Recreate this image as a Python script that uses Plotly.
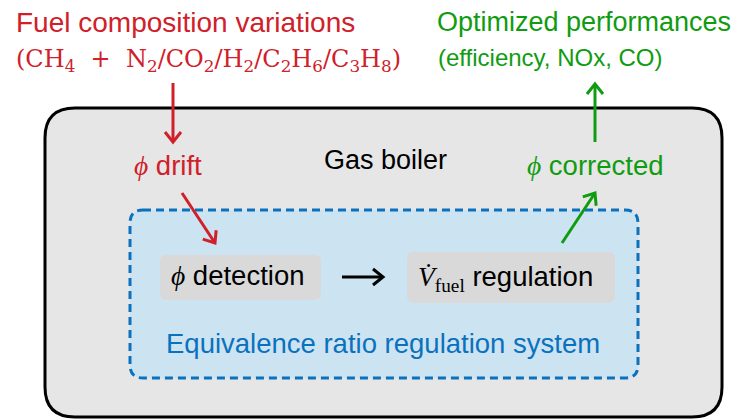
import plotly.graph_objects as go

# text content
title_left = "Fuel composition variations"
title_right = "Optimized performances"
fuel_mix = ["CH<sub>4</sub>", "N<sub>2</sub>", "CO<sub>2</sub>", "H<sub>2</sub>",
            "C<sub>2</sub>H<sub>6</sub>", "C<sub>3</sub>H<sub>8</sub>"]
targets = ["efficiency", "NOx", "CO"]
system_name = "Equivalence ratio regulation system"

RED = "#d0202a"
GREEN = "#109c10"
BLUE = "#0a72bd"
SERIF = "DejaVu Serif"
SANS = "Liberation Sans"
PHI = '<span style="font-family:Liberation Serif"><i>ϕ</i></span>'


def rounded(x0, y0, x1, y1, r):
    return (f"M {x0+r},{y0} L {x1-r},{y0} Q {x1},{y0} {x1},{y0+r} "
            f"L {x1},{y1-r} Q {x1},{y1} {x1-r},{y1} L {x0+r},{y1} "
            f"Q {x0},{y1} {x0},{y1-r} L {x0},{y0+r} Q {x0},{y0} {x0+r},{y0} Z")


def arrow(x0, y0, x1, y1, color):
    # line with an open chevron head, like tikz "->"
    dx, dy = x1 - x0, y1 - y0
    n = (dx * dx + dy * dy) ** 0.5
    ux, uy = dx / n, dy / n
    L, Wd = 10, 8
    bx, by = x1 - ux * L, y1 - uy * L
    px, py = -uy * Wd, ux * Wd
    head = f"M {bx+px},{by+py} L {x1},{y1} L {bx-px},{by-py}"
    return [
        dict(type="line", x0=x0, y0=y0, x1=x1 - ux * 1.5, y1=y1 - uy * 1.5,
             line=dict(color=color, width=3)),
        dict(type="path", path=head, line=dict(color=color, width=3)),
    ]


fig = go.Figure()

shapes = []
# gas boiler
shapes.append(dict(type="path", path=rounded(45, 108, 722, 417, 30),
                   fillcolor="#e6e6e6", line=dict(color="black", width=3), layer="below"))
# regulation system
shapes.append(dict(type="path", path=rounded(130, 210, 638, 378, 13),
                   fillcolor="#cce3f2", line=dict(color=BLUE, width=3, dash="8px,5px"),
                   layer="below"))
# nodes
shapes.append(dict(type="path", path=rounded(160, 255, 321, 300, 7),
                   fillcolor="#d9d9d9", line=dict(width=0), layer="below"))
shapes.append(dict(type="path", path=rounded(407, 252, 615, 303, 7),
                   fillcolor="#d9d9d9", line=dict(width=0), layer="below"))

shapes += arrow(173, 83, 173, 142, RED)
shapes += arrow(182, 193, 215, 243, RED)
shapes += arrow(342, 277, 383, 277, "black")
shapes += arrow(562, 243, 595, 193, GREEN)
shapes += arrow(595, 142, 595, 84, GREEN)

plus = "\u00a0\u00a0+\u00a0\u00a0"
texts = [
    (title_left, 14, 22, RED, 28, SANS),
    ("(" + plus.join([fuel_mix[0], "/".join(fuel_mix[1:])]) + ")", 14, 60, RED, 24, SERIF),
    (title_right, 435, 22, GREEN, 27, SANS),
    ("(" + ", ".join(targets) + ")", 436, 57, GREEN, 24, SANS),
    (PHI + " drift", 132, 165, RED, 27.5, SANS),
    ("Gas boiler", 322, 160, "black", 27, SANS),
    (PHI + " corrected", 525, 165, GREEN, 27.5, SANS),
    (PHI + " detection", 169, 275, "black", 27.5, SANS),
    ('<span style="font-family:Liberation Serif"><i>V̇</i><sub>fuel</sub></span> regulation',
     416, 278, "black", 27.5, SANS),
    (system_name, 164, 343, BLUE, 27.5, SANS),
]
annotations = [
    dict(text=t, x=x, y=y, xref="x", yref="y", xanchor="left", yanchor="middle",
         showarrow=False, font=dict(color=c, size=s, family=f))
    for t, x, y, c, s, f in texts
]

fig.update_layout(
    width=739, height=420,
    margin=dict(l=0, r=0, t=0, b=0),
    paper_bgcolor="white", plot_bgcolor="white",
    xaxis=dict(range=[0, 739], visible=False, fixedrange=True),
    yaxis=dict(range=[420, 0], visible=False, fixedrange=True),
    shapes=shapes, annotations=annotations,
    showlegend=False,
)

# drop the default page margin so the figure fills the window
fig.write_html("out.html", config={"displayModeBar": False},
               post_script="document.body.style.margin='0';")
